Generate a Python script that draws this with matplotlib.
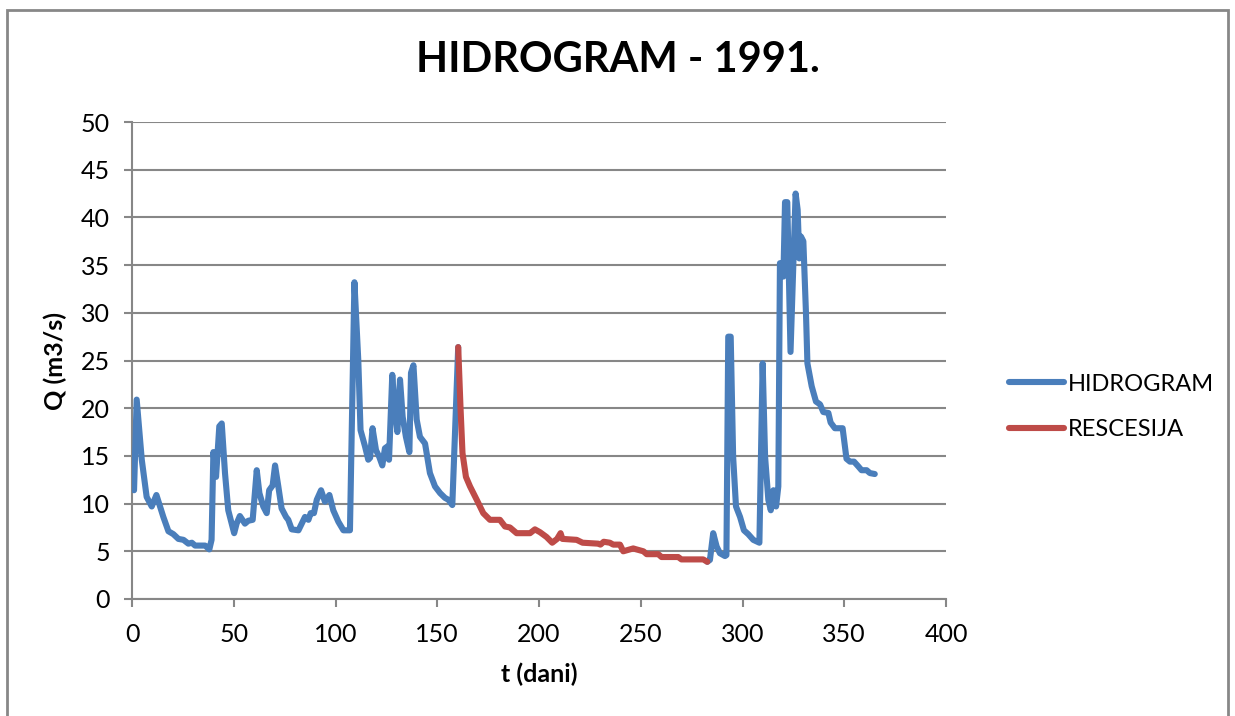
import matplotlib.pyplot as plt
import numpy as np
from matplotlib.patches import Rectangle

# hidrogram, dio prije recesije (dan, Q m3/s)
dani1 = [1, 2.3, 4.8, 7.2, 9.7, 12, 15.4, 17.9, 20.3, 22.8, 25.3, 27.7, 29.4, 31, 35.9, 38, 39.1,
         40, 41.3, 42.9, 44.1, 45.7, 47.3, 49, 50.2, 51.4, 53, 55.5, 57.1, 59.3, 61.3, 62.6, 64.5,
         66.2, 67.4, 69.1, 70.3, 71.9, 73.5, 75.7, 76.8, 78.5, 81.8, 85, 86.7, 87.8, 89.4, 90.8,
         92.9, 94.8, 97, 98.9, 101.4, 103.9, 107.1, 109.3, 111.2, 112.3, 114.5, 116.1, 117,
         118.2, 119.9, 121.5, 123, 124.3, 125.6, 126.3, 127.9, 128.9, 130.4, 131.7, 133, 134.6,
         136.3, 137.1, 138.3, 139.9, 141.5, 144, 146.4, 148.9, 151.4, 153.8, 155.5, 157.4, 160.3]
q1 = [11.4, 20.9, 14.6, 10.7, 9.7, 10.9, 8.6, 7.1, 6.8, 6.3, 6.2, 5.8, 5.9, 5.6, 5.6, 5.2, 6.2,
      15.4, 12.8, 18.1, 18.4, 13.2, 9.3, 7.9, 6.9, 7.9, 8.7, 7.9, 8.2, 8.3, 13.5, 11.1, 9.7,
      9.0, 11.4, 11.9, 14.0, 11.8, 9.5, 8.6, 8.3, 7.3, 7.2, 8.6, 8.3, 9.0, 9.0, 10.4,
      11.4, 10.2, 10.9, 9.3, 8.1, 7.2, 7.2, 33.2, 25.0, 17.7, 16.0, 14.6, 14.8,
      17.9, 15.6, 14.9, 14.0, 15.8, 16.0, 14.6, 23.5, 20.5, 17.5, 23.0, 19.1, 17.0,
      15.4, 23.7, 24.5, 18.8, 17.0, 16.3, 13.2, 11.8, 11.1, 10.6, 10.4, 9.85, 26.4]

# recesija
dani_r = [160.3, 161.4, 162.4, 164.1, 166.1, 169.4, 172.6, 175.9, 180.8, 183.3, 185.7, 189,
          195.6, 198, 200.5, 203.7, 206.5, 208.9, 210.6, 211.5, 218.5, 221.4, 229.1, 230.2,
          231.8, 234.8, 236.5, 239.8, 241.4, 246.3, 247.9, 251.3, 252.9, 258.6, 260.2, 268.4,
          270, 280.7, 282.7]
q_r = [26.4, 20.2, 15.3, 12.8, 11.8, 10.4, 9.0, 8.3, 8.3, 7.6, 7.5, 6.9,
       6.9, 7.3, 7.0, 6.5, 5.9, 6.3, 6.9, 6.3, 6.2, 5.9, 5.8, 5.7,
       6.0, 5.9, 5.7, 5.7, 5.0, 5.3, 5.2, 5.0, 4.7, 4.7, 4.4, 4.4,
       4.15, 4.15, 3.9]

# hidrogram, dio poslije recesije
dani2 = [282.7, 284, 285.6, 287.3, 288.9, 291.4, 292.1, 293, 294.2, 295.4, 296.8, 298.8, 300.7,
         302.8, 305.3, 308.3, 309.9, 311.1, 312.7, 313.9, 315.2, 316.5, 317.6, 318.4, 320.1,
         320.9, 322, 323.6, 326.1, 327.1, 327.9, 328.7, 329.9, 331.2, 331.9, 334, 336.1, 338.1,
         339.7, 342.2, 343.3, 345.4, 349.2, 351.1, 352.8, 354.8, 356.9, 358.5, 361, 362.6, 365]
q2 = [3.9, 4.1, 6.9, 5.5, 4.8, 4.5, 4.6, 27.5, 27.5, 14.9, 9.7, 8.6, 7.2,
      6.8, 6.2, 5.9, 24.7, 14.9, 10.4, 9.3, 11.4, 9.7, 11.8, 35.2, 33.8,
      41.6, 41.6, 25.9, 42.5, 40.8, 35.7, 38.0, 37.5, 29.9, 24.7, 22.3, 20.7, 20.4,
      19.6, 19.5, 18.5, 17.9, 17.9, 14.7, 14.4, 14.4, 13.9, 13.5, 13.5, 13.2, 13.1]

plt.rcParams['font.family'] = ['Lato', 'DejaVu Sans']

fig = plt.figure(figsize=(12.35, 7.16), dpi=100)
ax = fig.add_axes([132 / 1235, 1 - 599 / 716, 814 / 1235, 477 / 716])

# okvir grafikona
fig.patches.append(Rectangle((7 / 1235, -0.05), 1221 / 1235, 1.05 - 10 / 716,
                             transform=fig.transFigure, fill=False,
                             edgecolor='#878787', linewidth=2))

dani_h = dani1 + [np.nan] + dani2
q_h = q1 + [np.nan] + q2
ax.plot(dani_h, q_h, color='#4A7EBB', linewidth=4.4, solid_joinstyle='round',
        solid_capstyle='round', label='HIDROGRAM', zorder=3)
ax.plot(dani_r, q_r, color='#BE4B48', linewidth=4.4, solid_joinstyle='round',
        solid_capstyle='round', label='RESCESIJA', zorder=4)

ax.set_xlim(0, 400)
ax.set_ylim(0, 50)
ax.set_xticks(np.arange(0, 401, 50))
ax.set_yticks(np.arange(0, 51, 5))
ax.grid(axis='y', color='#878787', linewidth=1.5)
ax.set_axisbelow(True)

for s in ['top', 'right']:
    ax.spines[s].set_visible(False)
for s in ['left', 'bottom']:
    ax.spines[s].set_color('#878787')
    ax.spines[s].set_linewidth(1.5)

ax.tick_params(axis='y', direction='out', length=6, width=1.5, color='#878787',
               labelsize=18, pad=10)
ax.tick_params(axis='x', direction='out', length=6, width=1.5, color='#878787',
               labelsize=18, pad=11)

ax.set_xlabel('t (dani)', fontsize=18, fontweight='bold', labelpad=12)
ax.set_ylabel('Q (m3/s)', fontsize=18, fontweight='bold', labelpad=10)
fig.text(618 / 1235, 1 - 60 / 716, 'HIDROGRAM - 1991.', fontsize=30, fontweight='bold',
         ha='center', va='center')

ax.legend(loc='center left', bbox_to_anchor=(988 / 1235, 1 - 407 / 716),
          bbox_transform=fig.transFigure, frameon=False, fontsize=17,
          handlelength=2.3, handletextpad=0.2, labelspacing=1.05)

plt.savefig('out.png', dpi=100)
